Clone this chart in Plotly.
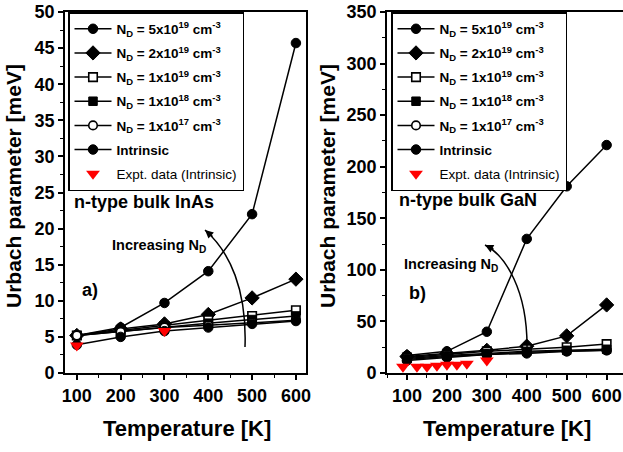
import plotly.graph_objects as go

W, H = 623, 452

# ---------------- data ----------------
T = [100, 200, 300, 400, 500, 600]

inas_5e19 = [5.2, 6.3, 9.7, 14.1, 22.0, 45.7]
inas_2e19 = [5.2, 6.1, 6.8, 8.1, 10.4, 13.0]
inas_1e19 = [5.2, 5.9, 6.5, 7.3, 7.9, 8.7]
inas_1e18 = [5.2, 5.8, 6.4, 6.9, 7.4, 7.9]
inas_1e17 = [5.2, 5.7, 6.3, 6.6, 7.0, 7.3]
inas_intr = [3.9, 5.0, 5.8, 6.3, 6.8, 7.2]
inas_expt_T = [100, 300]
inas_expt = [3.8, 5.8]

gan_5e19 = [17, 21, 40, 130, 181, 221]
gan_2e19 = [16, 19, 22, 26, 36, 66]
gan_1e19 = [15, 18, 21, 23, 25, 28]
gan_1e18 = [14, 17, 19, 21, 22, 23]
gan_1e17 = [13, 16, 18, 20, 21, 22]
gan_intr = [12, 15, 18, 19, 21, 22]
gan_expt_T = [90, 125, 150, 175, 200, 225, 250, 300]
gan_expt = [6, 6, 6, 7, 8, 8, 9, 12]

names = [
    "N<sub>D</sub> = 5x10<sup>19</sup> cm<sup>-3</sup>",
    "N<sub>D</sub> = 2x10<sup>19</sup> cm<sup>-3</sup>",
    "N<sub>D</sub> = 1x10<sup>19</sup> cm<sup>-3</sup>",
    "N<sub>D</sub> = 1x10<sup>18</sup> cm<sup>-3</sup>",
    "N<sub>D</sub> = 1x10<sup>17</sup> cm<sup>-3</sup>",
    "Intrinsic",
]
expt_name = "<span style='font-weight:normal'>Expt. data (Intrinsic)</span>"

# ---------------- styles ----------------
FONT = "Liberation Sans, Arial, sans-serif"
marker_styles = [
    dict(symbol="circle", size=9.5, color="black", line=dict(color="black", width=1)),
    dict(symbol="diamond", size=11, color="black", line=dict(color="black", width=1)),
    dict(symbol="square", size=8.5, color="white", line=dict(color="black", width=1.6)),
    dict(symbol="square", size=8.5, color="black", line=dict(color="black", width=1)),
    dict(symbol="circle", size=8.5, color="white", line=dict(color="black", width=1.6)),
    dict(symbol="circle", size=9.5, color="black", line=dict(color="black", width=1)),
]


def px2x(px):
    return px / W


def py2y(py):
    return 1 - py / H


fig = go.Figure()

panels = [
    ("x", "y", "legend", [inas_5e19, inas_2e19, inas_1e19, inas_1e18, inas_1e17, inas_intr],
     inas_expt_T, inas_expt),
    ("x2", "y2", "legend2", [gan_5e19, gan_2e19, gan_1e19, gan_1e18, gan_1e17, gan_intr],
     gan_expt_T, gan_expt),
]

for xa, ya, leg, series, eT, eV in panels:
    for i, (vals, nm, ms) in enumerate(zip(series, names, marker_styles)):
        fig.add_trace(go.Scatter(
            x=T, y=vals, name=nm, mode="lines+markers",
            line=dict(color="black", width=1.5), marker=ms,
            xaxis=xa, yaxis=ya, legend=leg, legendgroup=leg + str(i),
        ))
    fig.add_trace(go.Scatter(
        x=eT, y=eV, name=expt_name, mode="markers",
        marker=dict(symbol="triangle-down", size=12, color="#ff0000", line=dict(width=0)),
        xaxis=xa, yaxis=ya, legend=leg, legendgroup=leg + "e",
    ))

tickfont = dict(family=FONT, size=18, color="black", weight="bold")
common_x = dict(showline=True, linecolor="black", linewidth=1.8, mirror=True,
                ticks="outside", ticklen=5, tickwidth=1.5, tickcolor="black",
                tickfont=tickfont, showgrid=False, zeroline=False, automargin=False,
                dtick=100, tick0=0,
                minor=dict(dtick=50, ticks="outside", ticklen=3, tickwidth=1.2, tickcolor="black"))
common_y = dict(showline=True, linecolor="black", linewidth=1.8, automargin=False,
                ticks="outside", ticklen=5, tickwidth=1.5, tickcolor="black",
                tickfont=tickfont, showgrid=False, zeroline=False)

ydom = [py2y(373), py2y(12)]
fig.update_layout(
    width=W, height=H,
    margin=dict(l=0, r=0, t=0, b=0, autoexpand=False),
    paper_bgcolor="white", plot_bgcolor="white",
    font=dict(family=FONT, color="black"),
    xaxis=dict(common_x, domain=[px2x(65), px2x(306)], range=[73, 623], anchor="y"),
    yaxis=dict(common_y, domain=ydom, range=[0, 50], dtick=5, mirror=True, anchor="x",
               minor=dict(dtick=2.5, ticks="outside", ticklen=3, tickwidth=1.2, tickcolor="black")),
    xaxis2=dict(common_x, domain=[px2x(387), 1.0], range=[50, 641], anchor="y2"),
    yaxis2=dict(common_y, domain=ydom, range=[0, 350], dtick=50, mirror=False, anchor="x2",
                minor=dict(dtick=25, ticks="outside", ticklen=3, tickwidth=1.2, tickcolor="black")),
    showlegend=True,
)

legend_common = dict(bgcolor="white", bordercolor="black", borderwidth=1.5,
                     xanchor="left", yanchor="top", tracegroupgap=3.6,
                     itemwidth=37,
                     font=dict(family=FONT, size=13.5, color="black", weight="bold"))
fig.update_layout(
    legend=dict(legend_common, x=px2x(68), y=py2y(12)),
    legend2=dict(legend_common, x=px2x(391), y=py2y(12)),
)

# ---------------- annotations ----------------
ann = []


def label(text, px, py, font, xanchor="center", yanchor="middle", angle=0):
    return dict(text=text, x=px2x(px), y=py2y(py), xanchor=xanchor, yanchor=yanchor,
                textangle=angle, font=font, showarrow=False, xref="paper", yref="paper")


title_font = dict(family=FONT, size=21, color="black", weight="bold")
ann.append(label("Urbach parameter [meV]", 13, 186, title_font, angle=-90))
ann.append(label("Urbach parameter [meV]", 327, 186, title_font, angle=-90))
ann.append(label("Temperature [K]", 187, 428, dict(title_font, size=22)))
ann.append(label("Temperature [K]", 507, 428, dict(title_font, size=22)))

lab_font = dict(family=FONT, size=18, color="black", weight="bold")
ann.append(label("n-type bulk InAs", 72, 202, lab_font, xanchor="left"))
ann.append(label("n-type bulk GaN", 397, 200, lab_font, xanchor="left"))
ann.append(label("a)", 80, 290, lab_font, xanchor="left"))
ann.append(label("b)", 407, 293, lab_font, xanchor="left"))

inc_font = dict(family=FONT, size=14.5, color="black", weight="bold")
ann.append(label("Increasing N<sub>D</sub>", 110, 246, inc_font, xanchor="left"))
ann.append(label("Increasing N<sub>D</sub>", 402, 265, inc_font, xanchor="left"))

# arrow heads
ann.append(dict(text="", x=px2x(205), y=py2y(230), ax=9, ay=8, showarrow=True,
                arrowhead=2, arrowsize=1.1, arrowwidth=1.5, arrowcolor="black",
                xref="paper", yref="paper"))
ann.append(dict(text="", x=px2x(485), y=py2y(245), ax=10, ay=5, showarrow=True,
                arrowhead=2, arrowsize=1.1, arrowwidth=1.5, arrowcolor="black",
                xref="paper", yref="paper"))
fig.update_layout(annotations=ann)


def curve(p0, p1, p2, p3):
    pts = [(px2x(a), py2y(b)) for a, b in (p0, p1, p2, p3)]
    return "M {},{} C {},{} {},{} {},{}".format(*[c for p in pts for c in p])


fig.add_shape(type="path", xref="paper", yref="paper",
              path=curve((245, 347), (247, 290), (230, 252), (205, 230)),
              line=dict(color="black", width=1.5))
fig.add_shape(type="path", xref="paper", yref="paper",
              path=curve((527, 350), (528, 290), (505, 255), (485, 245)),
              line=dict(color="black", width=1.5))

fig.write_html("out.html")
